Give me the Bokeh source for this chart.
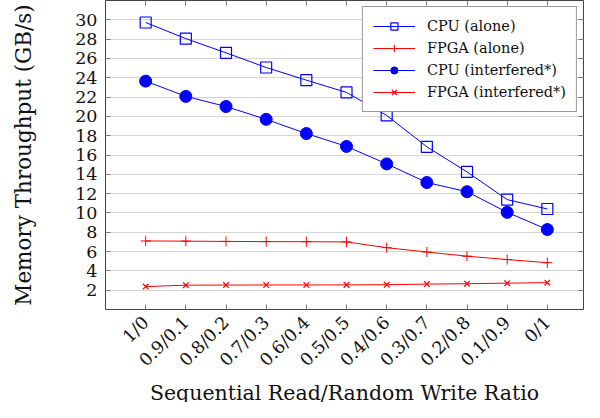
import math
from bokeh.plotting import figure
from bokeh.models import FixedTicker, LinearAxis, Range1d, Legend, Title
from bokeh.embed import file_html
from bokeh.resources import INLINE

ratios = ["1/0", "0.9/0.1", "0.8/0.2", "0.7/0.3", "0.6/0.4", "0.5/0.5",
          "0.4/0.6", "0.3/0.7", "0.2/0.8", "0.1/0.9", "0/1"]
cpu_alone = [29.72, 28.05, 26.58, 25.06, 23.75, 22.48, 20.1, 16.85, 14.25, 11.38, 10.41]
fpga_alone = [7.1, 7.08, 7.05, 7.03, 7.02, 7.0, 6.4, 5.95, 5.52, 5.17, 4.85]
cpu_interf = [23.65, 22.07, 21.02, 19.69, 18.22, 16.89, 15.08, 13.15, 12.2, 10.06, 8.28]
fpga_interf = [2.37, 2.52, 2.53, 2.54, 2.54, 2.55, 2.57, 2.63, 2.67, 2.73, 2.78]
y_ticks = list(range(2, 31, 2))
x_title = "Sequential Read/Random Write Ratio"
y_title = "Memory Throughput (GB/s)"

FONT = "DejaVu Serif"
BLUE = "#0000ff"
RED = "#ff0000"

xs = list(range(len(ratios)))

p = figure(width=584, height=402, output_backend="svg", toolbar_location=None,
           x_range=Range1d(-1, 10.9), y_range=Range1d(0, 32),
           min_border_left=105, min_border_right=1, min_border_top=0, min_border_bottom=0)

p.outline_line_color = "#444444"
p.outline_line_width = 1
p.xgrid.grid_line_color = None
p.ygrid.grid_line_color = "#d4d4d4"
p.ygrid.grid_line_width = 1.2
p.ygrid.ticker = FixedTicker(ticks=y_ticks)

xa = p.xaxis[0]
xa.ticker = FixedTicker(ticks=xs)
xa.major_label_overrides = {i: r for i, r in enumerate(ratios)}
xa.major_label_orientation = math.pi / 4
ya = p.yaxis[0]
ya.ticker = FixedTicker(ticks=y_ticks)
ya.axis_label = y_title
for ax in (xa, ya):
    ax.axis_line_color = None
    ax.major_tick_in = 5
    ax.major_tick_out = 0
    ax.minor_tick_line_color = None
    ax.major_tick_line_color = "#777777"
    ax.major_label_text_font = FONT
    ax.major_label_text_font_size = "17.5px"
    ax.major_label_text_color = "#111111"
    ax.axis_label_text_font = FONT
    ax.axis_label_text_font_size = "21.5px"
    ax.axis_label_text_font_style = "normal"
    ax.axis_label_text_color = "#111111"
xa.major_label_standoff = 10
ya.major_label_standoff = 8
ya.axis_label_standoff = 36

title = Title(text=x_title, align="center", text_font=FONT, text_font_size="20.5px",
              text_font_style="normal", text_color="#111111", standoff=-4, offset=15)
p.add_layout(title, "below")

top = LinearAxis(ticker=FixedTicker(ticks=xs),
                 major_label_overrides={i: "" for i in xs},
                 axis_line_color=None, major_tick_in=5, major_tick_out=0,
                 minor_tick_line_color=None, major_tick_line_color="#777777",
                 major_label_standoff=0)
p.add_layout(top, "above")
right = LinearAxis(ticker=FixedTicker(ticks=y_ticks),
                   major_label_overrides={t: "" for t in y_ticks},
                   axis_line_color=None, major_tick_in=5, major_tick_out=0,
                   minor_tick_line_color=None, major_tick_line_color="#777777",
                   major_label_standoff=0)
p.add_layout(right, "right")

r1l = p.line(xs, cpu_alone, line_color=BLUE, line_width=1)
r1m = p.scatter(xs, cpu_alone, marker="square", size=11, fill_color=None,
                line_color=BLUE, line_width=1.2)
r2l = p.line(xs, fpga_alone, line_color=RED, line_width=1)
r2m = p.scatter(xs, fpga_alone, marker="cross", size=10, line_color=RED, line_width=1)
r3l = p.line(xs, cpu_interf, line_color=BLUE, line_width=1)
r3m = p.scatter(xs, cpu_interf, marker="circle", size=12, fill_color=BLUE,
                line_color=BLUE)
r4l = p.line(xs, fpga_interf, line_color=RED, line_width=1)
r4m = p.scatter(xs, fpga_interf, marker="x", size=8, line_color=RED, line_width=1.2)

legend = Legend(items=[("CPU (alone)", [r1l, r1m]),
                       ("FPGA (alone)", [r2l, r2m]),
                       ("CPU (interfered*)", [r3l, r3m]),
                       ("FPGA (interfered*)", [r4l, r4m])],
                location="top_right")
legend.label_text_font = FONT
legend.label_text_font_size = "14.5px"
legend.label_text_color = "#111111"
legend.glyph_width = 42
legend.glyph_height = 18
legend.label_standoff = 12
legend.spacing = 4
legend.padding = 10
legend.margin = 6
legend.border_line_color = "#333333"
legend.border_line_width = 1
legend.background_fill_alpha = 1
p.add_layout(legend)

open("out.html", "w").write(file_html(p, INLINE))
